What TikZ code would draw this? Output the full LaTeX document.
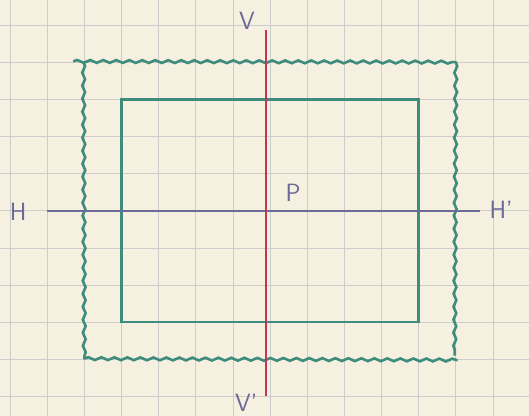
\documentclass[tikz,border=0pt]{standalone}
\usetikzlibrary{decorations.pathmorphing}
\definecolor{paper}{HTML}{F5F0E0}
\definecolor{gridgrey}{HTML}{CDCDCB}
\definecolor{tealink}{HTML}{3E8C7C}
\definecolor{redink}{HTML}{C43552}
\definecolor{violetink}{HTML}{6C6A98}
\begin{document}
\begin{tikzpicture}[x=37.15pt, y=37.15pt,
  font=\sffamily\fontsize{25}{25}\selectfont,
  wavy/.style={decorate, decoration={snake, segment length=13pt, amplitude=1.4pt}},
  axislabel/.style={text=violetink, inner sep=0pt}]
\def\xa{-0.27} \def\xb{13.97}
\def\ya{-0.525} \def\yb{10.673}
% squared paper
\fill[paper] (\xa,\ya) rectangle (\xb,\yb);
\useasboundingbox (\xa,\ya) rectangle (\xb,\yb);
\draw[gridgrey, line width=0.7pt, step=1] (\xa,\ya) grid (\xb,\yb);
% frames
\draw[tealink, line width=2.6pt, wavy] (1.7,9.02) -- (12.02,9);
\draw[tealink, line width=2.6pt, wavy] (12,9) -- (11.97,1.1);
\draw[tealink, line width=2.6pt, wavy] (2,1.02) -- (12.05,0.98);
\draw[tealink, line width=2.6pt, wavy] (1.98,9) -- (2,1);
\draw[tealink, line width=2.6pt] (3,2) rectangle (11,8);
% axes
\coordinate (Hl) at (1,5);
\coordinate (Hr) at (12.65,5);
\coordinate (Vt) at (6.89,9.87);
\coordinate (Vb) at (6.89,0);
\draw[violetink, line width=1.8pt] (Hl) -- (Hr);
\draw[redink, line width=2.6pt] (Vt) -- (Vb);
% labels
\node[axislabel] (H) at (0.22,4.97) {H};
\node[axislabel] (H') at (13.22,5.02) {H'};
\node[axislabel] (V) at (6.38,10.1) {V};
\node[axislabel] (V') at (6.36,-0.16) {V'};
\node[axislabel] (P) at (7.62,5.48) {P};
\end{tikzpicture}
\end{document}
